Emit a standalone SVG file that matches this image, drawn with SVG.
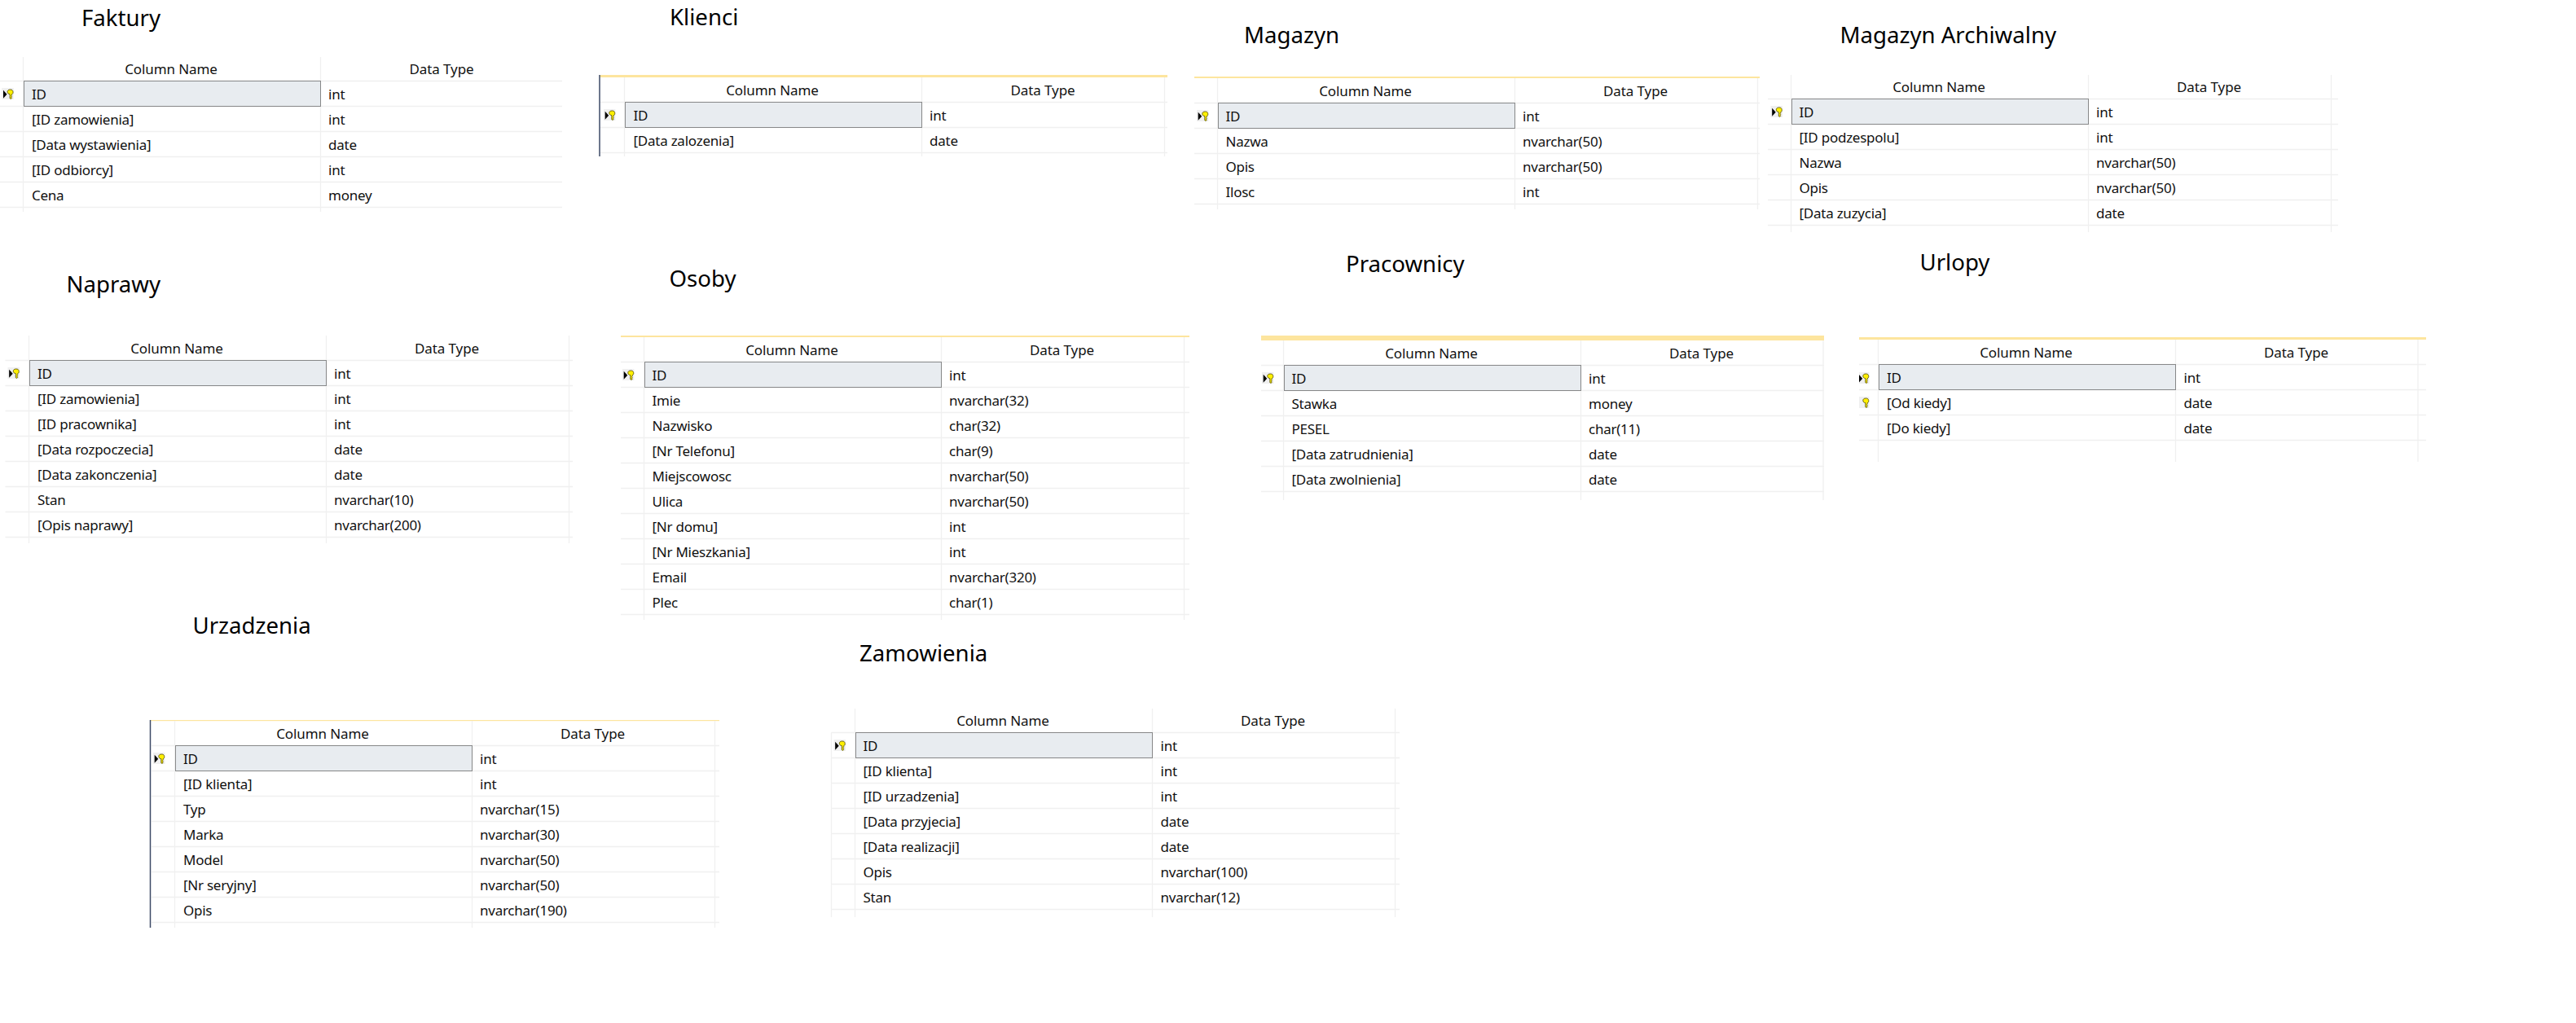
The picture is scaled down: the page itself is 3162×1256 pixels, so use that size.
<svg xmlns="http://www.w3.org/2000/svg" width="3162" height="1256" viewBox="0 0 3162 1256">
<style>
text{font-family:"Noto Sans","Open Sans","Liberation Sans",sans-serif;fill:#111}
.title{font-size:27.6px;fill:#000}
.t{font-size:17px;letter-spacing:-.25px}
.h{font-size:17px;letter-spacing:-.1px;text-anchor:middle}
.grid{fill:none;stroke:#F0F0F0;stroke-width:1.3}
.sel{fill:#E8ECF0;stroke:#222;stroke-width:1;stroke-dasharray:1 1}
.bar{fill:#FDE59E}
.edge{stroke:#3C4A66;stroke-width:1.5}
</style>
<defs>
<g id="keyhead"><rect x="0" y="0" width="14.4" height="14" fill="#F0F0F0"/><path d="M9.8 7.6V12.7L11 13.4 12.2 12.4 11.6 11.6 12.2 10.6 11.6 9.6 12.2 8.8V7.6C13.6 7 13.9 6.2 13.7 4.6 13.4 2.8 12.4 2 10.4 2 8 2 6.8 3 6.8 4.8 6.8 6.4 8 7.4 9.8 7.6Z" fill="#FFF000" stroke="#4A4400" stroke-width=".8"/></g>
<g id="key"><use href="#keyhead"/><path d="M1.7 2.7L6.2 7.7 1.7 12.7Z" fill="#000"/></g>
</defs>
<rect width="3162" height="1256" fill="#fff"/>

<g id="faktury">
<text class="title" x="100" y="32">Faktury</text>
<path class="grid" d="M0 99.5H690M0 130.5H690M0 161.5H690M0 192.5H690M0 223.5H690M0 254.5H690M28.5 70V260M393.5 70V260"/>
<rect class="sel" x="29.5" y="99.5" width="364" height="31"/>
<use href="#key" transform="translate(2.3 108)"/>
<text class="h" x="210" y="91">Column Name</text><text class="h" x="542" y="91">Data Type</text>
<text class="t" x="39" y="122">ID</text><text class="t" x="403" y="122">int</text>
<text class="t" x="39" y="153">[ID zamowienia]</text><text class="t" x="403" y="153">int</text>
<text class="t" x="39" y="184">[Data wystawienia]</text><text class="t" x="403" y="184">date</text>
<text class="t" x="39" y="215">[ID odbiorcy]</text><text class="t" x="403" y="215">int</text>
<text class="t" x="39" y="246">Cena</text><text class="t" x="403" y="246">money</text>
</g>

<g id="klienci">
<text class="title" x="822" y="31">Klienci</text>
<rect class="bar" x="736" y="92" width="697" height="3"/>
<path class="edge" d="M736 92V192"/>
<path class="grid" d="M737 125.5H1433M737 156.5H1433M737 187.5H1433M766.5 95V192M1131.5 95V192M1429.5 95V192"/>
<rect class="sel" x="767.5" y="125.5" width="364" height="31"/>
<use href="#key" transform="translate(741 134)"/>
<text class="h" x="948" y="117">Column Name</text><text class="h" x="1280" y="117">Data Type</text>
<text class="t" x="777.5" y="148">ID</text><text class="t" x="1141" y="148">int</text>
<text class="t" x="777.5" y="179">[Data zalozenia]</text><text class="t" x="1141" y="179">date</text>
</g>

<g id="magazyn">
<text class="title" x="1527" y="53">Magazyn</text>
<rect class="bar" x="1466" y="94" width="694" height="2"/>
<path class="grid" d="M1466 126.5H2160M1466 157.5H2160M1466 188.5H2160M1466 219.5H2160M1466 250.5H2160M1494.5 96V257M1859.5 96V257M2157.5 96V257"/>
<rect class="sel" x="1495.5" y="126.5" width="364" height="31"/>
<use href="#key" transform="translate(1469 135)"/>
<text class="h" x="1676" y="118">Column Name</text><text class="h" x="2007.5" y="118">Data Type</text>
<text class="t" x="1504.5" y="149">ID</text><text class="t" x="1869" y="149">int</text>
<text class="t" x="1504.5" y="180">Nazwa</text><text class="t" x="1869" y="180">nvarchar(50)</text>
<text class="t" x="1504.5" y="211">Opis</text><text class="t" x="1869" y="211">nvarchar(50)</text>
<text class="t" x="1504.5" y="242">Ilosc</text><text class="t" x="1869" y="242">int</text>
</g>

<g id="magazyn-archiwalny">
<text class="title" x="2258.5" y="52.5">Magazyn Archiwalny</text>
<path class="grid" d="M2170 121.5H2870M2170 152.5H2870M2170 183.5H2870M2170 214.5H2870M2170 245.5H2870M2170 276.5H2870M2198.5 92V285M2563.5 92V285M2861.5 92V285"/>
<rect class="sel" x="2199.5" y="121.5" width="364" height="31"/>
<use href="#key" transform="translate(2173.5 130)"/>
<text class="h" x="2380" y="113">Column Name</text><text class="h" x="2711.5" y="113">Data Type</text>
<text class="t" x="2208.5" y="144">ID</text><text class="t" x="2573" y="144">int</text>
<text class="t" x="2208.5" y="175">[ID podzespolu]</text><text class="t" x="2573" y="175">int</text>
<text class="t" x="2208.5" y="206">Nazwa</text><text class="t" x="2573" y="206">nvarchar(50)</text>
<text class="t" x="2208.5" y="237">Opis</text><text class="t" x="2573" y="237">nvarchar(50)</text>
<text class="t" x="2208.5" y="268">[Data zuzycia]</text><text class="t" x="2573" y="268">date</text>
</g>

<g id="naprawy">
<text class="title" x="81.5" y="359">Naprawy</text>
<path class="grid" d="M6.5 442.5H703M6.5 473.5H703M6.5 504.5H703M6.5 535.5H703M6.5 566.5H703M6.5 597.5H703M6.5 628.5H703M6.5 659.5H703M35.5 412V667M400.5 412V667M698.5 412V667"/>
<rect class="sel" x="36.5" y="442.5" width="364" height="31"/>
<use href="#key" transform="translate(9.5 451)"/>
<text class="h" x="217" y="434">Column Name</text><text class="h" x="548.5" y="434">Data Type</text>
<text class="t" x="46" y="465">ID</text><text class="t" x="410" y="465">int</text>
<text class="t" x="46" y="496">[ID zamowienia]</text><text class="t" x="410" y="496">int</text>
<text class="t" x="46" y="527">[ID pracownika]</text><text class="t" x="410" y="527">int</text>
<text class="t" x="46" y="558">[Data rozpoczecia]</text><text class="t" x="410" y="558">date</text>
<text class="t" x="46" y="589">[Data zakonczenia]</text><text class="t" x="410" y="589">date</text>
<text class="t" x="46" y="620">Stan</text><text class="t" x="410" y="620">nvarchar(10)</text>
<text class="t" x="46" y="651">[Opis naprawy]</text><text class="t" x="410" y="651">nvarchar(200)</text>
</g>

<g id="osoby">
<text class="title" x="821.5" y="352">Osoby</text>
<rect class="bar" x="762" y="412" width="698" height="2"/>
<path class="grid" d="M762 444.5H1460M762 475.5H1460M762 506.5H1460M762 537.5H1460M762 568.5H1460M762 599.5H1460M762 630.5H1460M762 661.5H1460M762 692.5H1460M762 723.5H1460M762 754.5H1460M790.5 414V761M1155.5 414V761M1453.5 414V761"/>
<rect class="sel" x="791.5" y="444.5" width="364" height="31"/>
<use href="#key" transform="translate(764 453)"/>
<text class="h" x="972" y="436">Column Name</text><text class="h" x="1303.5" y="436">Data Type</text>
<text class="t" x="800.5" y="467">ID</text><text class="t" x="1165" y="467">int</text>
<text class="t" x="800.5" y="498">Imie</text><text class="t" x="1165" y="498">nvarchar(32)</text>
<text class="t" x="800.5" y="529">Nazwisko</text><text class="t" x="1165" y="529">char(32)</text>
<text class="t" x="800.5" y="560">[Nr Telefonu]</text><text class="t" x="1165" y="560">char(9)</text>
<text class="t" x="800.5" y="591">Miejscowosc</text><text class="t" x="1165" y="591">nvarchar(50)</text>
<text class="t" x="800.5" y="622">Ulica</text><text class="t" x="1165" y="622">nvarchar(50)</text>
<text class="t" x="800.5" y="653">[Nr domu]</text><text class="t" x="1165" y="653">int</text>
<text class="t" x="800.5" y="684">[Nr Mieszkania]</text><text class="t" x="1165" y="684">int</text>
<text class="t" x="800.5" y="715">Email</text><text class="t" x="1165" y="715">nvarchar(320)</text>
<text class="t" x="800.5" y="746">Plec</text><text class="t" x="1165" y="746">char(1)</text>
</g>

<g id="pracownicy">
<text class="title" x="1652" y="334">Pracownicy</text>
<rect class="bar" x="1548" y="412" width="691" height="6"/>
<path class="grid" d="M1548 448.5H2239M1548 479.5H2239M1548 510.5H2239M1548 541.5H2239M1548 572.5H2239M1548 603.5H2239M1575.5 418V614M1940.5 418V614M2238 418V614"/>
<rect class="sel" x="1576.5" y="448.5" width="364" height="31"/>
<use href="#key" transform="translate(1549 457)"/>
<text class="h" x="1757" y="440">Column Name</text><text class="h" x="2088.5" y="440">Data Type</text>
<text class="t" x="1585.5" y="471">ID</text><text class="t" x="1950" y="471">int</text>
<text class="t" x="1585.5" y="502">Stawka</text><text class="t" x="1950" y="502">money</text>
<text class="t" x="1585.5" y="533">PESEL</text><text class="t" x="1950" y="533">char(11)</text>
<text class="t" x="1585.5" y="564">[Data zatrudnienia]</text><text class="t" x="1950" y="564">date</text>
<text class="t" x="1585.5" y="595">[Data zwolnienia]</text><text class="t" x="1950" y="595">date</text>
</g>

<g id="urlopy">
<text class="title" x="2356.5" y="332">Urlopy</text>
<rect class="bar" x="2282" y="414" width="696" height="3"/>
<path class="grid" d="M2282 447.5H2978M2282 478.5H2978M2282 509.5H2978M2282 540.5H2978M2305.5 417V567M2670.5 417V567M2968 417V567"/>
<rect class="sel" x="2306.5" y="447.5" width="364" height="31"/>
<use href="#key" transform="translate(2280 457)"/>
<use href="#keyhead" transform="translate(2280 487)"/>
<rect x="2276" y="455" width="6" height="48" fill="#fff"/>
<text class="h" x="2487" y="439">Column Name</text><text class="h" x="2818.5" y="439">Data Type</text>
<text class="t" x="2316" y="470">ID</text><text class="t" x="2680.5" y="470">int</text>
<text class="t" x="2316" y="501">[Od kiedy]</text><text class="t" x="2680.5" y="501">date</text>
<text class="t" x="2316" y="532">[Do kiedy]</text><text class="t" x="2680.5" y="532">date</text>
</g>

<g id="urzadzenia">
<text class="title" x="236.5" y="778">Urzadzenia</text>
<rect class="bar" x="185" y="884" width="698" height="1.2"/>
<path class="edge" d="M184.5 884V1139"/>
<path class="grid" d="M186 915.5H883M186 946.5H883M186 977.5H883M186 1008.5H883M186 1039.5H883M186 1070.5H883M186 1101.5H883M186 1132.5H883M214.5 885V1139M579.5 885V1139M877.5 885V1139"/>
<rect class="sel" x="215.5" y="915.5" width="364" height="31"/>
<use href="#key" transform="translate(188 924)"/>
<text class="h" x="396" y="907">Column Name</text><text class="h" x="727.5" y="907">Data Type</text>
<text class="t" x="225" y="938">ID</text><text class="t" x="589" y="938">int</text>
<text class="t" x="225" y="969">[ID klienta]</text><text class="t" x="589" y="969">int</text>
<text class="t" x="225" y="1000">Typ</text><text class="t" x="589" y="1000">nvarchar(15)</text>
<text class="t" x="225" y="1031">Marka</text><text class="t" x="589" y="1031">nvarchar(30)</text>
<text class="t" x="225" y="1062">Model</text><text class="t" x="589" y="1062">nvarchar(50)</text>
<text class="t" x="225" y="1093">[Nr seryjny]</text><text class="t" x="589" y="1093">nvarchar(50)</text>
<text class="t" x="225" y="1124">Opis</text><text class="t" x="589" y="1124">nvarchar(190)</text>
</g>

<g id="zamowienia">
<text class="title" x="1055" y="812">Zamowienia</text>
<path class="grid" d="M1020.5 899.5H1718M1020.5 930.5H1718M1020.5 961.5H1718M1020.5 992.5H1718M1020.5 1023.5H1718M1020.5 1054.5H1718M1020.5 1085.5H1718M1020.5 1116.5H1718M1020.5 899.5V1126M1049.5 870V1126M1414.5 870V1126M1712.5 870V1126"/>
<rect class="sel" x="1050.5" y="899.5" width="364" height="31"/>
<use href="#key" transform="translate(1023.5 908)"/>
<text class="h" x="1231" y="891">Column Name</text><text class="h" x="1562.5" y="891">Data Type</text>
<text class="t" x="1059.5" y="922">ID</text><text class="t" x="1424.5" y="922">int</text>
<text class="t" x="1059.5" y="953">[ID klienta]</text><text class="t" x="1424.5" y="953">int</text>
<text class="t" x="1059.5" y="984">[ID urzadzenia]</text><text class="t" x="1424.5" y="984">int</text>
<text class="t" x="1059.5" y="1015">[Data przyjecia]</text><text class="t" x="1424.5" y="1015">date</text>
<text class="t" x="1059.5" y="1046">[Data realizacji]</text><text class="t" x="1424.5" y="1046">date</text>
<text class="t" x="1059.5" y="1077">Opis</text><text class="t" x="1424.5" y="1077">nvarchar(100)</text>
<text class="t" x="1059.5" y="1108">Stan</text><text class="t" x="1424.5" y="1108">nvarchar(12)</text>
</g>
</svg>
